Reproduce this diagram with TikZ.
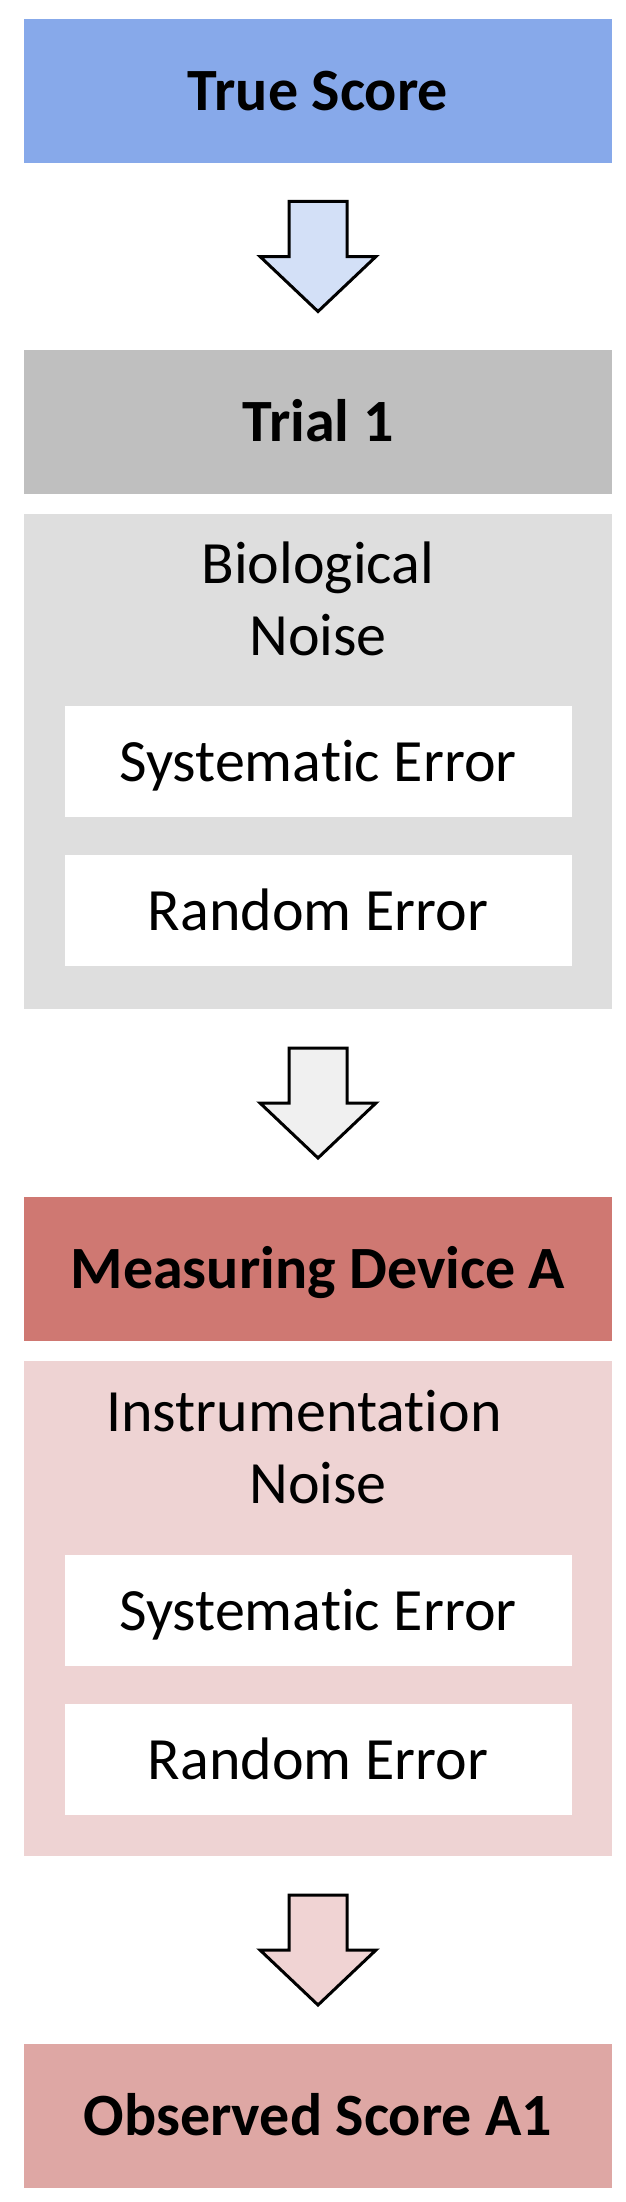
\documentclass[tikz,border=0pt]{standalone}
\usepackage{fontspec}
\setmainfont{Carlito}[Ligatures={NoCommon,NoContextual}]
\usetikzlibrary{positioning}

\definecolor{truecol}{HTML}{87A9EA}
\definecolor{trialcol}{HTML}{BFBFBF}
\definecolor{biocol}{HTML}{DEDEDE}
\definecolor{meascol}{HTML}{CF7872}
\definecolor{instrcol}{HTML}{EED3D3}
\definecolor{obscol}{HTML}{DEA7A4}
\definecolor{arrowblue}{HTML}{D3E0F7}
\definecolor{arrowgrey}{HTML}{F0F0F0}
\definecolor{arrowpink}{HTML}{F0D3D3}

\tikzset{blockdown/.pic={
    \draw[pic actions, line width=3pt]
      (-29,55) -- (29,55) -- (29,0) -- (58,0) -- (0,-55) -- (-58,0) -- (-29,0) -- cycle;
}}

\begin{document}
\begin{tikzpicture}[x=1pt, y=1pt,
    headbox/.style={minimum width=588pt, minimum height=144pt, inner sep=0pt, outer sep=0pt,
      text height=39pt, text depth=0pt, font=\fontsize{60pt}{72pt}\selectfont\bfseries},
    panel/.style={minimum width=588pt, minimum height=495pt, inner sep=0pt, outer sep=0pt},
    errbox/.style={fill=white, minimum width=507pt, minimum height=111pt, inner sep=0pt, outer sep=0pt,
      text height=39pt, text depth=0pt, font=\fontsize{60pt}{72pt}\selectfont},
    noiselabel/.style={align=center, inner sep=0pt, font=\fontsize{60pt}{72pt}\selectfont}]
\useasboundingbox (0,0) rectangle (626,-2202);

% score and trial
\node[headbox, fill=truecol] (truescore) at (318,-91) {True Score};
\node[headbox, fill=trialcol, below=187pt of truescore] (trial) {Trial 1};

% biological noise (base = baseline of the last line)
\node[panel, fill=biocol, below=20pt of trial] (bio) {};
\node[noiselabel, below=141pt of bio.north, anchor=base] (biolabel) {Biological\\Noise};
\node[errbox, below=192pt of bio.north] (biosys) {Systematic Error};
\node[errbox, below=38pt of biosys] (biorand) {Random Error};

% measuring device
\node[headbox, fill=meascol, below=188pt of bio] (device) {Measuring Device A};

% instrumentation noise
\node[panel, fill=instrcol, below=20pt of device] (instr) {};
\node[noiselabel, below=142pt of instr.north, anchor=base] (instrlabel) {\hbox{Instrumentation\kern28pt}\\Noise};
\node[errbox, below=194pt of instr.north] (instrsys) {Systematic Error};
\node[errbox, below=38pt of instrsys] (instrrand) {Random Error};

% observed score
\node[headbox, fill=obscol, below=188pt of instr] (observed) {Observed Score A1};

% block arrows between the stages
\path (truescore.south) -- (trial.north) coordinate[midway] (a1);
\path (bio.south) -- (device.north) coordinate[midway] (a2);
\path (instr.south) -- (observed.north) coordinate[midway] (a3);
\pic[fill=arrowblue] at (a1) {blockdown};
\pic[fill=arrowgrey] at (a2) {blockdown};
\pic[fill=arrowpink] at (a3) {blockdown};

\end{tikzpicture}
\end{document}
